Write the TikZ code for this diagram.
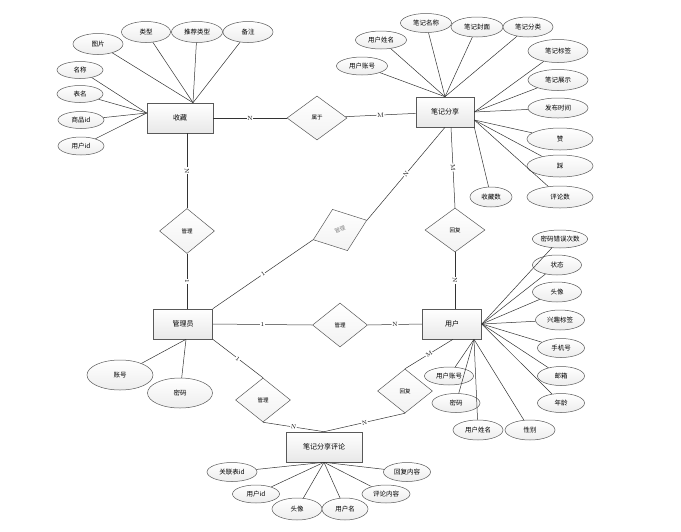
\documentclass[tikz,border=0pt]{standalone}
\usepackage{fontspec}
\newfontfamily\cjk{Noto Sans CJK SC}
\usetikzlibrary{shapes.geometric}
\tikzset{
  ent/.style={rectangle,draw=gray!70!black,line width=0.6pt,top color=white,bottom color=gray!18,
    minimum width=#1,minimum height=30pt,inner sep=0pt,font=\cjk\fontsize{7}{8}\selectfont},
  ent/.default=59pt,
  attr/.style 2 args={ellipse,draw=gray!70!black,line width=0.5pt,top color=white,bottom color=gray!14,
    minimum width=#1,minimum height=#2,inner sep=0pt,font=\cjk\fontsize{6.5}{7}\selectfont},
  rel/.style 2 args={diamond,draw=gray!70!black,line width=0.5pt,top color=white,bottom color=gray!10,
    minimum width=#1,minimum height=#2,inner sep=0pt,font=\cjk\fontsize{5.5}{6}\selectfont},
  ln/.style={draw=gray!40!black,line width=0.5pt},
  card/.style={fill=white,inner sep=0.6pt,font=\fontsize{6}{6}\selectfont,sloped}
}
\begin{document}
\begin{tikzpicture}[x=1pt,y=-1pt]
\useasboundingbox (0,0) rectangle (681,531);
% entities
\node[ent=66pt] (sc) at (180,118) {收藏};
\node[ent=58pt] (bj) at (445,112) {笔记分享};
\node[ent=59pt] (yh) at (452,324) {用户};
\node[ent=59pt] (gly) at (183,324) {管理员};
\node[ent=76pt] (pl) at (324,447) {笔记分享评论};
% relations
\node[rel={60pt}{44pt}] (sy) at (317,118) {属于};
\node[rel={55pt}{45pt}] (gl1) at (187,231) {管理};
\node[rel={57pt}{44pt},rotate=20,text=gray] (gl2) at (340,230) {管理};
\node[rel={55pt}{44pt}] (gl3) at (340,325) {管理};
\node[rel={60pt}{44pt}] (hf1) at (455,230) {回复};
\node[rel={55pt}{44pt}] (hf2) at (405,391) {回复};
\node[rel={55pt}{44pt}] (gl4) at (263,400) {管理};
% attributes of 收藏
\node[attr={50pt}{21pt}] (a1) at (98,44) {图片};
\node[attr={49pt}{21pt}] (a2) at (146,32) {类型};
\node[attr={51pt}{21pt}] (a3) at (197,32) {推荐类型};
\node[attr={50pt}{21pt}] (a4) at (248,32) {备注};
\node[attr={46pt}{17pt}] (a5) at (80,70) {名称};
\node[attr={46pt}{17pt}] (a6) at (80,94) {表名};
\node[attr={46pt}{17pt}] (a7) at (81,120) {商品id};
\node[attr={46pt}{18pt}] (a8) at (81,146) {用户id};
\foreach \a in {a1,a2,a3,a4} \draw[ln] (\a) -- ([xshift=13pt]sc.north);
\foreach \a in {a5,a6,a7,a8} \draw[ln] (\a) -- ([yshift=5pt]sc.west);
% attributes of 笔记分享
\node[attr={51pt}{18pt}] (b1) at (362,66) {用户账号};
\node[attr={51pt}{18pt}] (b2) at (381,40) {用户姓名};
\node[attr={51pt}{19pt}] (b3) at (426,23) {笔记名称};
\node[attr={52pt}{20pt}] (b4) at (477,27) {笔记封面};
\node[attr={50pt}{20pt}] (b5) at (528,27) {笔记分类};
\node[attr={60pt}{23pt}] (b6) at (558,51) {笔记标签};
\node[attr={60pt}{21pt}] (b7) at (558,80) {笔记展示};
\node[attr={60pt}{20pt}] (b8) at (558,108) {发布时间};
\node[attr={66pt}{22pt}] (b9) at (560,139) {赞};
\node[attr={66pt}{22pt}] (b10) at (560,166) {踩};
\node[attr={66pt}{22pt}] (b11) at (560,197) {评论数};
\node[attr={42pt}{20pt}] (b12) at (491,197) {收藏数};
\foreach \a in {b1,b2,b3,b4,b5} \draw[ln] (\a) -- (bj.north);
\foreach \a in {b6,b7,b8} \draw[ln] (\a) -- (bj.east);
\foreach \a in {b9,b10,b11} \draw[ln] (\a) -- ([yshift=-8pt]bj.east);
\draw[ln] (b12) -- (bj.south east);
% attributes of 用户
\node[attr={55pt}{18pt}] (c1) at (560,239) {密码错误次数};
\node[attr={49pt}{20pt}] (c2) at (557,265) {状态};
\node[attr={49pt}{20pt}] (c3) at (557,292) {头像};
\node[attr={49pt}{20pt}] (c4) at (560,320) {兴趣标签};
\node[attr={47pt}{19pt}] (c5) at (561,348) {手机号};
\node[attr={47pt}{19pt}] (c6) at (561,376) {邮箱};
\node[attr={47pt}{19pt}] (c7) at (561,403) {年龄};
\node[attr={49pt}{18pt}] (c8) at (449,376) {用户账号};
\node[attr={48pt}{19pt}] (c9) at (456,403) {密码};
\node[attr={50pt}{20pt}] (c10) at (478,430) {用户姓名};
\node[attr={50pt}{20pt}] (c11) at (530,430) {性别};
\foreach \a in {c1,c2,c3,c4,c5,c6,c7} \draw[ln] (\a) -- (yh.east);
\foreach \a in {c8,c9,c10,c11} \draw[ln] (\a) -- ([xshift=22pt]yh.south);
% attributes of 管理员
\node[attr={66pt}{30pt}] (d1) at (120,375) {账号};
\node[attr={65pt}{30pt}] (d2) at (180,393) {密码};
\foreach \a in {d1,d2} \draw[ln] (\a) -- ([xshift=3pt]gly.south);
% attributes of 笔记分享评论
\node[attr={50pt}{19pt}] (e1) at (232,472) {关联表id};
\node[attr={47pt}{18pt}] (e2) at (256,494) {用户id};
\node[attr={50pt}{22pt}] (e3) at (297,509) {头像};
\node[attr={46pt}{22pt}] (e4) at (345,509) {用户名};
\node[attr={48pt}{18pt}] (e5) at (386,494) {评论内容};
\node[attr={47pt}{19pt}] (e6) at (407,472) {回复内容};
\foreach \a in {e1,e2,e3,e4,e5,e6} \draw[ln] (\a) -- (pl.south);
% relationship connectors
\draw[ln] (sc) -- node[card] {N} (sy);
\draw[ln] (sy) -- node[card] {M} (bj);
\draw[ln] ([xshift=7pt]sc.south) -- node[card] {N} (gl1.north);
\draw[ln] (gl1.south) -- node[card] {1} ([xshift=4pt]gly.north);
\draw[ln] (gly.north east) -- node[card] {1} (gl2.west);
\draw[ln] (gl2.east) -- node[card] {N} (bj.south);
\draw[ln] ([xshift=6pt]bj.south) -- node[card] {M} (hf1.north);
\draw[ln] (hf1.south) -- node[card] {N} ([xshift=3pt]yh.north);
\draw[ln] (gly.east) -- node[card] {1} (gl3.west);
\draw[ln] (gl3.east) -- node[card] {N} (yh.west);
\draw[ln] ([xshift=1pt]yh.south) -- node[card] {M} (hf2.north);
\draw[ln] (hf2.south) -- node[card] {N} (pl.north);
\draw[ln] (gly.south east) -- node[card] {1} (gl4.north);
\draw[ln] (gl4.south) -- node[card] {N} (pl.north);
\end{tikzpicture}
\end{document}
